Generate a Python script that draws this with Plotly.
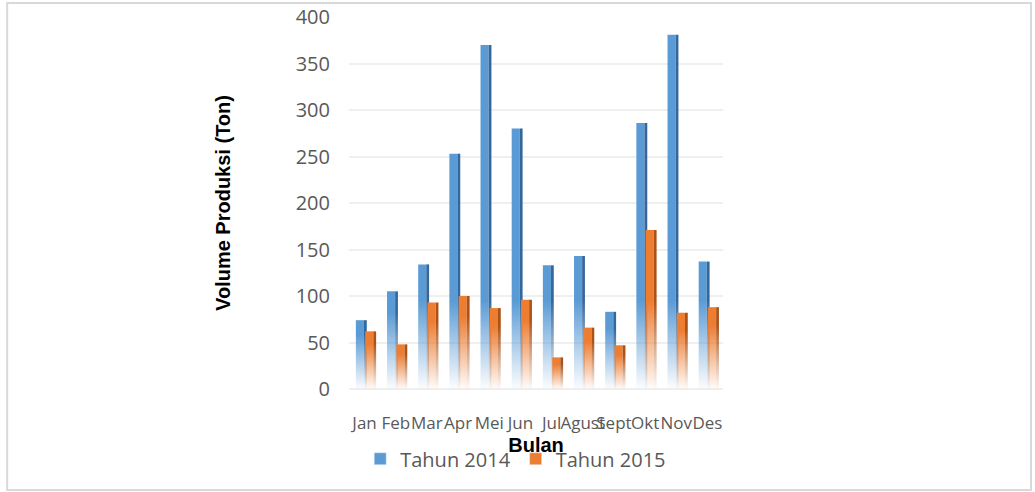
import plotly.graph_objects as go

months = ["Jan", "Feb", "Mar", "Apr", "Mei", "Jun", "Jul", "Agust", "Sept", "Okt", "Nov", "Des"]
tahun_2014 = [74, 105, 134, 253, 370, 280, 133, 143, 83, 286, 381, 137]
tahun_2015 = [62, 48, 93, 100, 87, 96, 34, 66, 47, 171, 82, 88]
series_names = ["Tahun 2014", "Tahun 2015"]
y_ticks = [0, 50, 100, 150, 200, 250, 300, 350, 400]

# style
colors = ["91,155,213", "237,125,49"]
side_colors = ["52,104,156", "172,82,22"]
front_offset = [-0.28, 0.02]
front_w = 0.26
side_w = 0.09
TICK_FONT = dict(family="Open Sans", size=20, color="#595959")
XTICK_FONT = dict(family="Open Sans", size=17, color="#595959")
TITLE_FONT = dict(family="Liberation Sans", size=20, color="#000000", weight="bold")

fig = go.Figure()


def grad(rgb):
    return dict(
        type="vertical",
        colorscale=[[0, f"rgba({rgb},0.02)"], [0.45, f"rgba({rgb},0.45)"], [1, f"rgba({rgb},1)"]],
    )


for s, values in enumerate([tahun_2014, tahun_2015]):
    for i, v in enumerate(values):
        x0 = i + front_offset[s]
        x1 = x0 + front_w
        x2 = x1 + side_w
        stop = min(0.78 * v, 95)
        g = grad(colors[s])
        g.update(start=0, stop=stop)
        fig.add_trace(go.Scatter(
            x=[x0, x1, x1, x0, x0], y=[0, 0, v, v, 0],
            mode="lines", line=dict(width=0), fill="toself",
            fillgradient=g, showlegend=False, hoverinfo="skip",
        ))
        g2 = grad(side_colors[s])
        g2.update(start=0, stop=stop)
        fig.add_trace(go.Scatter(
            x=[x1, x2, x2, x1, x1], y=[0, 0, v, v, 0],
            mode="lines", line=dict(width=0), fill="toself",
            fillgradient=g2, showlegend=False, hoverinfo="skip",
        ))

# legend entries
for s, name in enumerate(series_names):
    fig.add_trace(go.Bar(x=[None], y=[None], name=name,
                         marker=dict(color=f"rgb({colors[s]})"), showlegend=True))

fig.update_layout(
    width=1035, height=492,
    margin=dict(l=349, r=312, t=17, b=103, autoexpand=False),
    paper_bgcolor="white", plot_bgcolor="white",
    showlegend=True,
    legend=dict(orientation="h", x=0.03, xanchor="left", y=-0.135, yanchor="top",
                font=TICK_FONT, bgcolor="rgba(0,0,0,0)", itemwidth=30),
    xaxis=dict(
        range=[-0.5, 11.5], tickmode="array", tickvals=list(range(len(months))),
        ticktext=months, tickangle=0, showgrid=False, zeroline=False, showline=False,
        ticks="outside", ticklen=19, tickcolor="rgba(0,0,0,0)", tickfont=XTICK_FONT,
        title=dict(text="Bulan", font=TITLE_FONT, standoff=0), automargin=False,
    ),
    yaxis=dict(
        range=[0, 400], tickmode="array", tickvals=y_ticks,
        showgrid=True, gridcolor="#efefef", gridwidth=2,
        zeroline=True, zerolinecolor="#efefef", zerolinewidth=2, showline=False,
        ticks="outside", ticklen=14, tickcolor="rgba(0,0,0,0)", tickfont=TICK_FONT,
        title=dict(text="Volume Produksi (Ton)", font=TITLE_FONT, standoff=59), automargin=False,
    ),
    shapes=[dict(type="rect", xref="paper", yref="paper",
                 x0=-0.914, x1=1.8235, y0=-0.2715, y1=1.0376,
                 line=dict(color="#d9d9d9", width=2), layer="below")],
)

fig.write_html("out.html", config={"displayModeBar": False},
               post_script="document.body.style.margin='0';")
